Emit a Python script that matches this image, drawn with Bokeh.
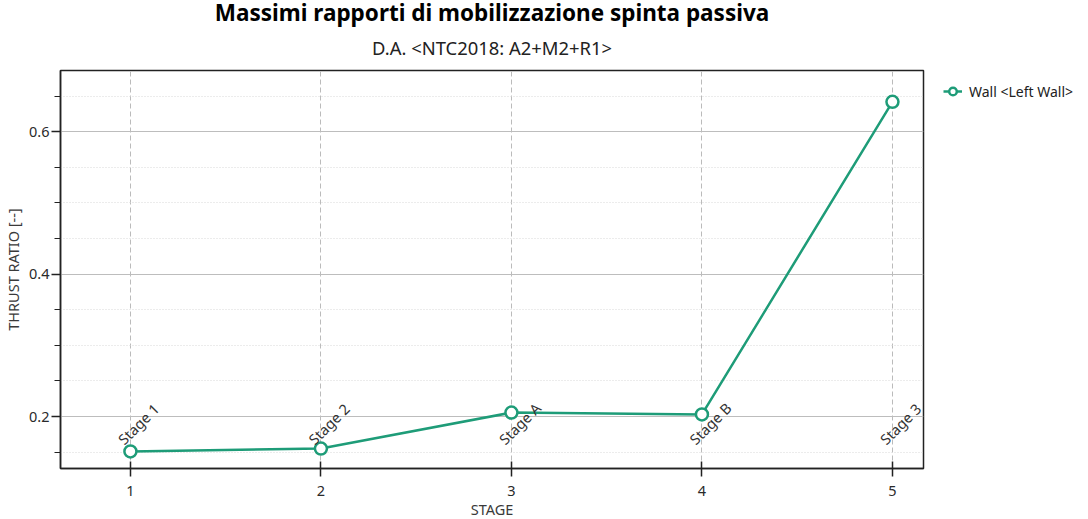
from bokeh.plotting import figure
from bokeh.models import Title, Range1d, FixedTicker, Legend, LegendItem
from bokeh.core.properties import value
from bokeh.embed import file_html
from bokeh.resources import INLINE

stage_x = [1, 2, 3, 4, 5]
stage_names = ["Stage 1", "Stage 2", "Stage A", "Stage B", "Stage 3"]
thrust_ratio = [0.151, 0.155, 0.2055, 0.203, 0.642]
y_ticks = [0.2, 0.4, 0.6]
y_minor = [0.15, 0.25, 0.3, 0.35, 0.45, 0.5, 0.55, 0.65]

FONT = "Noto Sans"
GREEN = "#1e9c78"

p = figure(frame_width=863, frame_height=398, output_backend="svg", toolbar_location=None,
           x_range=Range1d(0.633, 5.163), y_range=Range1d(0.127, 0.686),
           min_border_left=52, min_border_right=160, min_border_top=0, min_border_bottom=0,
           title=None)
p.background_fill_color = "white"
p.border_fill_color = "white"
p.outline_line_color = "#222222"
p.outline_line_width = 1.5

p.add_layout(Title(text="D.A. <NTC2018: A2+M2+R1>", align="center", text_font=FONT,
                   text_font_size="18.4px", text_font_style="normal", text_color="#222222",
                   offset=0, standoff=21), "above")
p.add_layout(Title(text="Massimi rapporti di mobilizzazione spinta passiva", align="center",
                   text_font=FONT, text_font_size="22.5px", text_font_style="bold",
                   text_color="#000000", text_line_height=0.9, standoff=-11), "above")

# axes
p.xaxis.ticker = FixedTicker(ticks=stage_x)
p.yaxis.ticker = FixedTicker(ticks=y_ticks, minor_ticks=y_minor)
p.xaxis.axis_label = "STAGE"
p.yaxis.axis_label = "THRUST RATIO [--]"
for ax in (p.xaxis, p.yaxis):
    ax.axis_label_text_font = FONT
    ax.axis_label_text_font_size = "14.5px"
    ax.axis_label_text_font_style = "normal"
    ax.axis_label_text_color = "#3a3a3a"
    ax.major_label_text_font = FONT
    ax.major_label_text_font_size = "14.5px"
    ax.major_label_text_color = "#2a2a2a"
    ax.axis_line_color = "#222222"
    ax.axis_line_width = 1.5
    ax.major_tick_line_color = "#222222"
    ax.minor_tick_line_color = "#222222"
    ax.major_tick_line_width = 1.5
p.xaxis.major_tick_in = 7
p.xaxis.major_tick_out = 8
p.xaxis.minor_tick_line_color = None
p.yaxis.major_tick_in = 0
p.yaxis.major_tick_out = 9
p.yaxis.minor_tick_in = 0
p.yaxis.minor_tick_out = 6
p.xaxis.major_label_standoff = 9
p.yaxis.major_label_standoff = 2
p.xaxis.axis_label_standoff = 0
p.yaxis.axis_label_standoff = 3

# grids
p.xgrid.grid_line_color = "#bbbbbb"
p.xgrid.grid_line_dash = "5 3"
p.xgrid.grid_line_width = 1
p.ygrid.grid_line_color = "#bdbdbd"
p.ygrid.grid_line_width = 1.2
p.ygrid.minor_grid_line_color = "#d8d8d8"
p.ygrid.minor_grid_line_dash = "1 2"

# data
ln = p.line(stage_x, thrust_ratio, line_color=GREEN, line_width=2.5)
sc = p.scatter(stage_x, thrust_ratio, size=12, fill_color="white", line_color=GREEN, line_width=2.5)

label_y = [0.152] * len(stage_x)
p.text(x=stage_x, y=label_y, text=stage_names, angle=0.785398, text_align="left",
       text_baseline="bottom", x_offset=-3, y_offset=-2, text_font=value(FONT),
       text_font_size="14.5px", text_color="#333333")

legend = Legend(items=[LegendItem(label="Wall <Left Wall>", renderers=[ln, sc])],
                location=(20, 367), border_line_color=None, background_fill_alpha=0,
                label_text_font=FONT, label_text_font_size="14px", label_text_color="#222222",
                glyph_width=19, glyph_height=20, margin=0, padding=5, label_standoff=7)
p.add_layout(legend, "right")

open("out.html", "w").write(file_html(p, INLINE))
